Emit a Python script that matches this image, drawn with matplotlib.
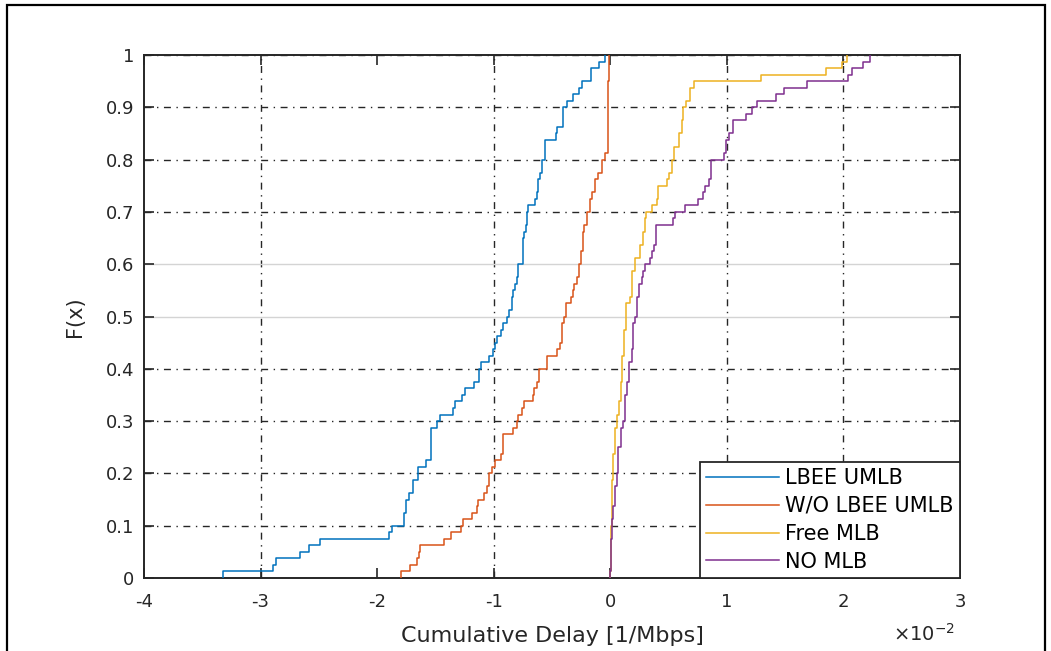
import matplotlib
matplotlib.use('Agg')
import matplotlib.pyplot as plt
from matplotlib.patches import Rectangle

# empirical CDF steps, x in units of 1e-2 [1/Mbps]
lbee_x = [-3.320, -2.896, -2.865, -2.659, -2.582, -2.488, -1.898, -1.870, -1.770, -1.755,
          -1.724, -1.692, -1.652, -1.581, -1.535, -1.489, -1.461, -1.352, -1.332, -1.275,
          -1.246, -1.172, -1.129, -1.112, -1.038, -1.009, -0.991, -0.969, -0.940, -0.918,
          -0.886, -0.866, -0.846, -0.832, -0.817, -0.803, -0.794, -0.751, -0.738, -0.723,
          -0.717, -0.708, -0.646, -0.631, -0.617, -0.603, -0.586, -0.560, -0.466, -0.454,
          -0.408, -0.374, -0.317, -0.268, -0.245, -0.165, -0.094, -0.045]
lbee_F = [0.0125, 0.025, 0.0375, 0.05, 0.0625, 0.075, 0.0875, 0.1, 0.125, 0.15,
          0.1625, 0.1875, 0.2125, 0.225, 0.2875, 0.3, 0.3125, 0.325, 0.3375, 0.35,
          0.3625, 0.375, 0.4, 0.4125, 0.425, 0.4375, 0.45, 0.4625, 0.475, 0.4875,
          0.5, 0.5125, 0.5375, 0.55, 0.5625, 0.575, 0.6, 0.65, 0.6625, 0.675,
          0.7, 0.7125, 0.725, 0.7375, 0.7625, 0.775, 0.8, 0.8375, 0.85, 0.8625,
          0.9, 0.9125, 0.925, 0.9375, 0.95, 0.975, 0.9875, 1.0]

wo_x = [-1.798, -1.718, -1.655, -1.641, -1.632, -1.424, -1.369, -1.281, -1.261, -1.184,
        -1.146, -1.132, -1.081, -1.060, -1.043, -1.015, -0.989, -0.940, -0.923, -0.837,
        -0.803, -0.789, -0.757, -0.740, -0.663, -0.654, -0.631, -0.611, -0.609, -0.540,
        -0.454, -0.431, -0.417, -0.400, -0.382, -0.339, -0.322, -0.311, -0.288, -0.266,
        -0.254, -0.237, -0.225, -0.197, -0.174, -0.159, -0.128, -0.103, -0.074, -0.043,
        -0.022, -0.017, -0.008]
wo_F = [0.0125, 0.025, 0.0375, 0.05, 0.0625, 0.075, 0.0875, 0.1, 0.1125, 0.125,
        0.1375, 0.15, 0.1625, 0.175, 0.2, 0.2125, 0.225, 0.2375, 0.275, 0.2875,
        0.3, 0.3125, 0.325, 0.3375, 0.35, 0.3625, 0.375, 0.3875, 0.4, 0.425,
        0.4375, 0.45, 0.4875, 0.5, 0.525, 0.5375, 0.55, 0.5625, 0.575, 0.6,
        0.625, 0.6625, 0.675, 0.7, 0.725, 0.7375, 0.7625, 0.775, 0.8, 0.8125,
        0.9, 0.95, 1.0]

free_x = [0.000, 0.002, 0.003, 0.006, 0.012, 0.017, 0.026, 0.040, 0.057, 0.075,
          0.089, 0.103, 0.118, 0.135, 0.169, 0.189, 0.212, 0.255, 0.278, 0.298,
          0.306, 0.355, 0.398, 0.412, 0.484, 0.506, 0.527, 0.549, 0.587, 0.613,
          0.621, 0.649, 0.684, 0.718, 1.290, 1.850, 1.985, 2.028]
free_F = [0.0125, 0.05, 0.0875, 0.1, 0.15, 0.1875, 0.2375, 0.2875, 0.3125, 0.3375,
          0.375, 0.425, 0.475, 0.525, 0.5375, 0.5875, 0.6125, 0.6375, 0.6625, 0.6875,
          0.7, 0.7125, 0.725, 0.75, 0.7625, 0.775, 0.8, 0.825, 0.85, 0.875,
          0.9, 0.9125, 0.9375, 0.95, 0.9625, 0.975, 0.9875, 1.0]

nomlb_x = [0.000, 0.006, 0.012, 0.021, 0.040, 0.055, 0.069, 0.089, 0.106, 0.126,
           0.141, 0.163, 0.184, 0.197, 0.212, 0.232, 0.249, 0.269, 0.283, 0.298,
           0.341, 0.355, 0.377, 0.392, 0.535, 0.555, 0.641, 0.755, 0.793, 0.812,
           0.849, 0.861, 0.975, 0.993, 1.021, 1.055, 1.164, 1.213, 1.256, 1.421,
           1.490, 1.690, 2.042, 2.071, 2.170, 2.228]
nomlb_F = [0.0125, 0.075, 0.1125, 0.1375, 0.175, 0.2, 0.25, 0.2875, 0.3, 0.35,
           0.375, 0.4125, 0.4375, 0.4875, 0.5, 0.5375, 0.5625, 0.575, 0.5875, 0.6,
           0.6125, 0.625, 0.6375, 0.675, 0.6875, 0.7, 0.7125, 0.725, 0.7375, 0.75,
           0.7625, 0.8, 0.8125, 0.8375, 0.85, 0.875, 0.8875, 0.9, 0.9125, 0.925,
           0.9375, 0.95, 0.9625, 0.975, 0.9875, 1.0]

labels = ['LBEE UMLB', 'W/O LBEE UMLB', 'Free MLB', 'NO MLB']
colors = ['#0072BD', '#D95319', '#EDB120', '#7E2F8E']
xticks = [-4, -3, -2, -1, 0, 1, 2, 3]
yticks = [0, 0.1, 0.2, 0.3, 0.4, 0.5, 0.6, 0.7, 0.8, 0.9, 1]
ytick_labels = ['0', '0.1', '0.2', '0.3', '0.4', '0.5', '0.6', '0.7', '0.8', '0.9', '1']

plt.rcParams['font.family'] = ['DejaVu Sans']
axcol = '#262626'

fig = plt.figure(figsize=(10.51, 6.51), dpi=100)
ax = fig.add_axes([144 / 1051, 1 - 578 / 651, 816 / 1051, 523 / 651])

series = [(lbee_x, lbee_F), (wo_x, wo_F), (free_x, free_F), (nomlb_x, nomlb_F)]
for (xs, fs), lab, col in zip(series, labels, colors):
    ax.step([xs[0]] + xs, [0] + fs, where='post', color=col, lw=1.1, label=lab, zorder=3)

ax.set_xlim(-4, 3)
ax.set_ylim(0, 1)
ax.set_xticks(xticks)
ax.set_xticklabels([str(t) for t in xticks])
ax.set_yticks(yticks)
ax.set_yticklabels(ytick_labels)
ax.tick_params(direction='in', length=7, width=1.2, colors=axcol, labelsize=13,
               top=True, right=True)
ax.tick_params(axis='x', pad=11)
ax.tick_params(axis='y', pad=7)
for s in ax.spines.values():
    s.set_linewidth(1.4)
    s.set_color(axcol)

ax.set_axisbelow(True)
ax.grid(True, color=axcol, lw=1.0, linestyle=(0, (5, 4, 1, 4)))
for t, gl in zip(yticks, ax.get_ygridlines()):
    if t in (0.5, 0.6):
        gl.set_color('#d4d4d4')
        gl.set_linestyle('-')
for t, gl in zip(xticks, ax.get_xgridlines()):
    if t in (-4, -2, 0, 3):
        gl.set_visible(False)

ax.set_xlabel('Cumulative Delay [1/Mbps]', fontsize=16, color=axcol)
ax.xaxis.set_label_coords(0.5, -(636 - 578) / 523)
ax.xaxis.label.set_va('center')
ax.set_ylabel('F(x)', fontsize=15, color=axcol)
ax.yaxis.set_label_coords(-(144 - 75) / 816, 0.5)
ax.yaxis.label.set_va('center')

fig.text(893 / 1051, 1 - 641 / 651, r'$\times10^{-2}$', fontsize=14, color=axcol,
         ha='left', va='baseline')

leg = ax.legend(loc='lower right', bbox_to_anchor=(1, 0), borderaxespad=0,
                fontsize=15, frameon=True, fancybox=False, handlelength=3.5,
                handletextpad=0.3, labelspacing=0.38, borderpad=0.3)
leg.get_frame().set_edgecolor(axcol)
leg.get_frame().set_linewidth(1.3)
leg.get_frame().set_alpha(1)
leg.set_zorder(5)

fig.patches.append(Rectangle((7 / 1051, -0.02), (1045 - 7) / 1051, (651 - 5) / 651 + 0.02,
                             transform=fig.transFigure, fill=False, edgecolor='black',
                             lw=1.6, figure=fig))

fig.savefig('out.png', dpi=100, facecolor='white')
